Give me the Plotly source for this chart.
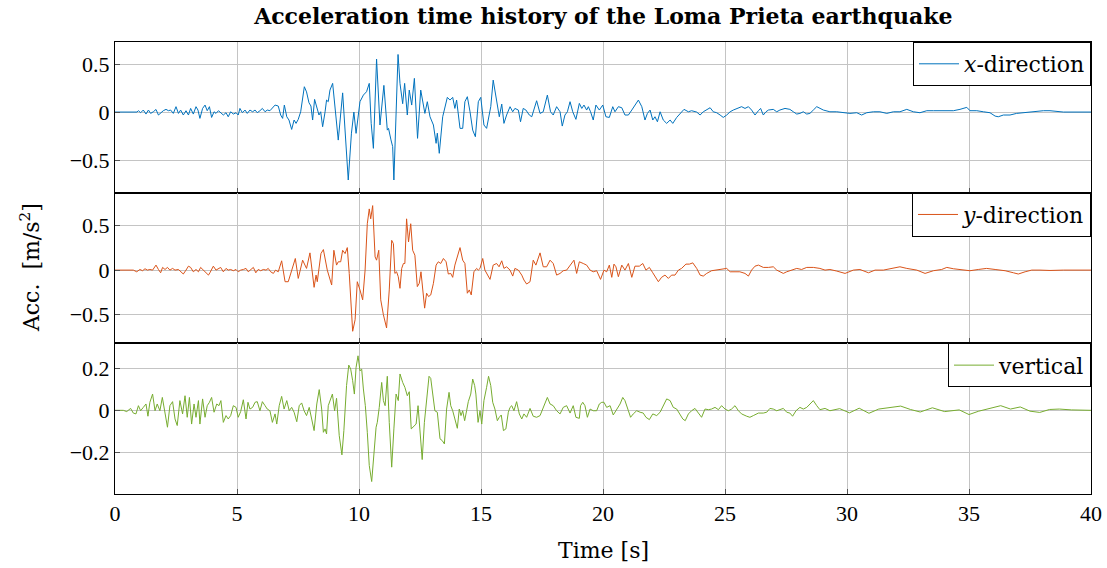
import plotly.graph_objects as go
from plotly.subplots import make_subplots

# ---------------- data ----------------
t_x = [0, 0.9, 0.96, 1.05, 1.16, 1.27, 1.37, 1.46, 1.57, 1.68, 1.78, 1.87, 1.98, 2.09, 2.19, 2.28, 2.39, 2.50, 2.60, 2.69,
       2.80, 2.91, 3.01, 3.10, 3.21, 3.32, 3.40, 3.48, 3.59, 3.69, 3.78, 3.87, 3.96, 4.06, 4.14, 4.24, 4.33, 4.44, 4.55, 4.64,
       4.74, 4.85, 4.96, 5.05, 5.12, 5.22, 5.33, 5.42, 5.53, 5.64, 5.74, 5.83, 5.94, 6.04, 6.15, 6.24, 6.35, 6.45, 6.56, 6.69,
       6.79, 6.87, 6.94, 7.04, 7.13, 7.24, 7.34, 7.42, 7.51, 7.61, 7.69, 7.76, 7.85, 7.95, 8.03, 8.10, 8.18, 8.27, 8.36, 8.43,
       8.51, 8.61, 8.67, 8.74, 8.81, 8.92, 9.03, 9.15, 9.33, 9.45, 9.56, 9.69, 9.79, 9.88, 10.04, 10.18, 10.31, 10.42, 10.50, 10.59,
       10.72, 10.86, 11.02, 11.16, 11.21, 11.31, 11.38, 11.43, 11.52, 11.60, 11.68, 11.79, 11.87, 11.98, 12.06, 12.16, 12.27, 12.40, 12.53, 12.70,
       12.80, 12.91, 13.05, 13.16, 13.21, 13.29, 13.43, 13.52, 13.62, 13.73, 13.84, 13.93, 14.00, 14.14, 14.25, 14.34, 14.44, 14.55, 14.66, 14.77,
       14.89, 14.99, 15.12, 15.23, 15.40, 15.50, 15.64, 15.75, 15.85, 15.94, 16.05, 16.19, 16.30, 16.39, 16.53, 16.62, 16.73, 16.84, 16.98, 17.08,
       17.28, 17.42, 17.55, 17.72, 17.85, 17.96, 18.10, 18.24, 18.33, 18.44, 18.54, 18.65, 18.76, 18.89, 19.03, 19.13, 19.22, 19.33, 19.40, 19.49,
       19.60, 19.71, 19.85, 19.99, 20.12, 20.26, 20.40, 20.49, 20.63, 20.77, 20.90, 21.04, 21.18, 21.31, 21.45, 21.59, 21.72, 21.82, 21.93, 22.04,
       22.13, 22.23, 22.34, 22.47, 22.61, 22.75, 22.86, 23.02, 23.16, 23.32, 23.50, 23.63, 23.84, 23.98, 24.11, 24.25, 24.39, 24.52, 24.66, 24.80,
       24.93, 25.07, 25.21, 25.34, 25.55, 25.68, 25.82, 25.96, 26.09, 26.23, 26.37, 26.46, 26.57, 26.68, 26.78, 26.98, 27.12, 27.25, 27.46, 27.66,
       27.80, 27.94, 28.07, 28.21, 28.35, 28.48, 28.62, 28.76, 29.03, 29.30, 29.58, 29.85, 30.12, 30.40, 30.60, 30.81, 31.08, 31.35, 31.63, 31.90,
       32.17, 32.45, 32.72, 32.99, 33.27, 33.54, 33.81, 34.09, 34.36, 34.63, 34.91, 35.04, 35.32, 35.59, 35.86, 36.07, 36.20, 36.41, 36.68, 36.95,
       37.23, 37.50, 37.77, 38.05, 38.32, 38.59, 38.87, 40.0]
acc_x = [0, 0, 0.014, -0.007, 0.021, -0.021, 0.021, -0.014, 0.003, 0.027, -0.031, -0.007, 0.014, 0.028, 0.014, 0.021, -0.014, 0.056, -0.014, 0.021,
         -0.031, 0.014, -0.031, 0.038, -0.021, 0.056, 0.021, -0.066, 0.038, 0.073, 0.014, 0.056, -0.056, 0.003, -0.014, 0.014, -0.007, -0.031, -0.007, -0.049,
         0.003, -0.021, -0.007, -0.031, 0.038, -0.007, 0.021, -0.014, 0.021, 0.003, 0.021, -0.007, 0.014, 0.038, 0.003, 0.021, 0.014, 0.038, 0.073, 0.063,
         -0.031, -0.066, 0.073, -0.049, -0.083, -0.181, -0.083, -0.118, -0.076, 0.003, 0.160, 0.264, 0.21, 0.097, 0.063, -0.083, 0.132, 0.056, -0.031, 0.003,
         -0.153, 0.003, 0.125, 0.108, 0.229, 0.299, 0.0, -0.292, 0.20, -0.29, -0.708, -0.22, 0.0, -0.222, 0.108, 0.177, 0.212, 0.299, -0.118, -0.378,
         0.552, -0.135, 0.278, -0.188, -0.17, -0.29, -0.36, -0.708, 0.056, 0.60, 0.299, 0.087, 0.299, -0.031, 0.229, 0.073, 0.351, -0.274, 0.229, -0.014,
         0.108, -0.049, -0.135, -0.326, -0.22, -0.43, -0.049, 0.056, 0.153, 0.125, 0.153, 0.038, 0.125, -0.170, -0.170, 0.108, 0.160, 0.003, -0.188, -0.257,
         0.108, 0.153, -0.135, -0.170, 0.056, 0.333, 0.125, -0.049, 0.083, -0.118, -0.031, 0.056, 0.003, 0.038, 0.021, -0.101, 0.038, 0.021, -0.031, -0.049,
         0.118, -0.014, 0.003, 0.177, 0.003, -0.031, 0.056, 0.003, -0.146, -0.031, 0.003, 0.108, 0.003, -0.076, 0.090, 0.038, 0.073, 0.021, 0.056, 0.003,
         -0.083, 0.073, 0.021, 0.073, -0.049, -0.056, 0.056, 0.003, 0.056, 0.045, -0.031, -0.031, 0.021, 0.073, 0.125, 0.056, -0.083, -0.014, 0.021, -0.083,
         -0.049, -0.101, 0.003, -0.083, -0.118, -0.083, -0.118, -0.056, -0.021, 0.028, 0.003, 0.014, 0.000, -0.031, 0.003, 0.021, 0.045, 0.003, -0.007, -0.031,
         -0.056, -0.031, 0.003, 0.021, 0.038, 0.056, 0.038, 0.056, 0.021, -0.031, 0.014, 0.038, -0.031, 0.003, 0.021, 0.028, 0.003, 0.021, 0.038, 0.028,
         0.003, -0.021, -0.014, 0.003, -0.021, -0.014, 0.021, 0.056, 0.021, 0.003, 0.003, -0.007, -0.014, -0.007, -0.031, -0.007, 0.003, 0.003, -0.014, 0.003,
         0.003, 0.028, 0.003, -0.007, 0.014, 0.014, 0.014, 0.010, 0.014, 0.028, 0.049, 0.014, 0.014, 0.003, -0.007, -0.042, -0.049, -0.031, -0.031, -0.014,
         -0.007, 0.003, 0.014, 0.014, 0.014, 0.007, 0.000, 0.0]

t_y = [0, 0.75, 0.89, 1.02, 1.13, 1.23, 1.33, 1.43, 1.54, 1.68, 1.78, 1.87, 1.95, 2.05, 2.15, 2.25, 2.36, 2.46, 2.60, 2.69,
       2.80, 2.91, 3.01, 3.10, 3.21, 3.32, 3.42, 3.51, 3.62, 3.73, 3.83, 3.89, 4.03, 4.14, 4.24, 4.33, 4.44, 4.55, 4.64, 4.74,
       4.85, 4.96, 5.05, 5.15, 5.26, 5.37, 5.46, 5.56, 5.67, 5.77, 5.87, 5.97, 6.08, 6.19, 6.28, 6.38, 6.49, 6.58, 6.69, 6.83,
       6.97, 7.10, 7.24, 7.39, 7.51, 7.69, 7.85, 7.99, 8.16, 8.24, 8.29, 8.44, 8.54, 8.70, 8.88, 8.97, 9.08, 9.15, 9.25, 9.33,
       9.43, 9.52, 9.60, 9.74, 9.84, 9.93, 10.04, 10.15, 10.25, 10.34, 10.42, 10.48, 10.56, 10.66, 10.72, 10.81, 10.89, 11.0, 11.13, 11.24,
       11.34, 11.41, 11.47, 11.54, 11.61, 11.68, 11.75, 11.82, 11.88, 11.95, 12.03, 12.12, 12.20, 12.29, 12.39, 12.47, 12.54, 12.61, 12.69, 12.77,
       12.85, 12.94, 13.05, 13.16, 13.25, 13.35, 13.46, 13.57, 13.66, 13.76, 13.84, 13.93, 14.03, 14.14, 14.25, 14.34, 14.44, 14.52, 14.60, 14.71,
       14.82, 14.89, 14.96, 15.07, 15.16, 15.26, 15.37, 15.50, 15.64, 15.74, 15.85, 15.94, 16.05, 16.19, 16.30, 16.39, 16.53, 16.67, 16.76, 16.87,
       17.01, 17.14, 17.25, 17.42, 17.55, 17.69, 17.83, 17.96, 18.10, 18.24, 18.37, 18.51, 18.65, 18.81, 18.92, 19.03, 19.19, 19.33, 19.47, 19.60,
       19.74, 19.90, 20.04, 20.15, 20.26, 20.36, 20.45, 20.53, 20.63, 20.77, 20.90, 21.04, 21.18, 21.31, 21.49, 21.63, 21.76, 21.90, 22.04, 22.17,
       22.27, 22.40, 22.54, 22.68, 22.81, 22.95, 23.09, 23.22, 23.40, 23.54, 23.68, 23.84, 23.98, 24.11, 24.25, 24.45, 24.66, 24.86, 25.07, 25.21,
       25.41, 25.61, 25.82, 25.96, 26.09, 26.23, 26.37, 26.57, 26.78, 26.98, 27.12, 27.25, 27.39, 27.53, 27.73, 27.94, 28.14, 28.35, 28.62, 28.89,
       29.10, 29.30, 29.58, 29.92, 30.26, 30.53, 30.88, 31.15, 31.49, 31.83, 32.17, 32.45, 32.86, 33.20, 33.54, 33.88, 34.09, 34.36, 34.70, 35.04,
       35.38, 35.72, 36.07, 36.48, 36.82, 37.02, 37.30, 37.57, 37.91, 38.32, 38.87, 40.0]
acc_y = [0, 0, -0.019, 0.007, -0.007, 0.015, 0, 0.007, 0, 0.056, 0.007, -0.030, 0.030, 0.007, 0.030, 0, 0.019, 0, 0.007, -0.019,
         -0.044, 0, 0.044, 0.030, -0.019, 0.007, -0.019, 0.030, 0, -0.019, -0.056, -0.030, 0.044, 0, 0.019, 0.030, -0.019, 0.019, 0, 0.007,
         -0.007, 0.007, -0.019, 0, 0.007, 0.019, -0.019, 0.007, 0.030, -0.030, 0.007, -0.007, 0.007, 0, 0.019, -0.019, -0.037, 0, -0.019, 0.104,
         -0.130, -0.130, 0, 0.130, -0.093, 0.111, 0.019, 0.193, -0.193, -0.056, -0.130, 0.185, 0.230, 0, -0.167, 0.222, 0.056, 0.093, 0.093, 0.222,
         0.185, 0.252, -0.037, -0.685, -0.556, -0.130, -0.222, -0.333, 0, 0.519, 0.685, 0.574, 0.722, 0.148, 0.111, 0.222, -0.333, -0.500, -0.648, -0.222,
         0.333, 0.296, -0.037, -0.019, -0.074, -0.204, 0.019, 0.074, 0.074, 0.574, 0.315, 0.519, 0.222, 0.167, -0.185, -0.148, -0.019, -0.222, -0.426, -0.259,
         -0.296, -0.278, -0.148, 0.056, 0.093, 0.074, 0.130, 0.093, -0.044, -0.037, -0.081, 0.056, 0.148, 0.252, 0.111, 0.074, -0.259, -0.222, -0.278, -0.019,
         0.019, 0, 0.019, 0.130, 0, -0.056, -0.104, 0.056, 0.074, 0.037, 0.104, 0.019, 0.037, 0, -0.067, 0.019, 0, -0.056, -0.111, -0.156,
         -0.130, 0.111, 0.056, 0.193, 0.037, 0.037, 0.111, 0.074, -0.056, -0.037, -0.007, 0, 0.056, 0.111, -0.037, 0.093, 0.074, 0.056, 0, -0.019,
         -0.007, -0.104, 0, -0.019, 0.056, -0.081, 0.067, 0.037, -0.074, 0.056, 0, 0.074, -0.081, 0.044, 0.044, 0.074, 0, 0.030, -0.030, -0.093,
         -0.130, -0.081, -0.056, -0.093, -0.056, -0.056, 0, 0.019, 0.067, 0.067, 0.081, 0.019, -0.056, -0.067, -0.037, -0.007, 0, 0.011, 0.019, -0.019,
         -0.019, -0.019, -0.037, -0.067, 0, 0.044, 0.056, 0.030, 0.030, 0.037, 0, -0.019, -0.037, -0.019, 0, 0.019, 0.007, 0.030, 0.030, 0.019,
         0, 0.007, -0.011, -0.037, 0, 0.007, -0.030, 0, 0, 0.019, 0.037, 0.019, 0, -0.037, -0.007, 0.007, 0.030, 0.015, 0, -0.007,
         0.007, 0.019, 0.007, -0.007, -0.030, -0.044, -0.019, 0, 0, -0.004, 0, 0]

t_z = [0, 0.34, 0.48, 0.64, 0.75, 0.86, 0.96, 1.05, 1.16, 1.27, 1.35, 1.43, 1.54, 1.64, 1.73, 1.84, 1.94, 2.05, 2.15, 2.25,
       2.36, 2.46, 2.55, 2.66, 2.77, 2.87, 2.96, 3.05, 3.14, 3.24, 3.32, 3.42, 3.48, 3.59, 3.69, 3.78, 3.87, 3.96, 4.06, 4.17,
       4.26, 4.34, 4.44, 4.55, 4.64, 4.74, 4.85, 4.96, 5.05, 5.15, 5.26, 5.37, 5.45, 5.53, 5.64, 5.74, 5.83, 5.94, 6.04, 6.15,
       6.24, 6.35, 6.45, 6.56, 6.63, 6.73, 6.83, 6.93, 7.04, 7.14, 7.24, 7.34, 7.45, 7.55, 7.65, 7.75, 7.85, 7.96, 8.06, 8.16,
       8.27, 8.37, 8.47, 8.54, 8.61, 8.67, 8.74, 8.81, 8.91, 9.00, 9.08, 9.19, 9.30, 9.38, 9.49, 9.58, 9.66, 9.74, 9.81, 9.88,
       9.96, 10.04, 10.11, 10.18, 10.26, 10.34, 10.42, 10.52, 10.61, 10.70, 10.75, 10.83, 10.93, 11.00, 11.07, 11.16, 11.24, 11.34, 11.43, 11.52,
       11.61, 11.68, 11.79, 11.88, 11.98, 12.06, 12.14, 12.25, 12.34, 12.42, 12.50, 12.59, 12.68, 12.77, 12.87, 12.94, 13.02, 13.11, 13.21, 13.32,
       13.41, 13.50, 13.59, 13.69, 13.76, 13.84, 13.93, 14.03, 14.11, 14.18, 14.25, 14.33, 14.41, 14.48, 14.58, 14.66, 14.74, 14.79, 14.88, 14.96,
       15.03, 15.12, 15.23, 15.31, 15.40, 15.48, 15.57, 15.67, 15.75, 15.83, 15.92, 16.02, 16.12, 16.19, 16.26, 16.35, 16.46, 16.57, 16.67, 16.76,
       16.87, 17.01, 17.14, 17.28, 17.42, 17.55, 17.72, 17.83, 17.96, 18.10, 18.24, 18.37, 18.51, 18.65, 18.78, 18.89, 19.03, 19.08, 19.17, 19.26,
       19.36, 19.47, 19.60, 19.74, 19.85, 19.95, 20.04, 20.15, 20.29, 20.42, 20.56, 20.70, 20.81, 20.90, 21.04, 21.13, 21.24, 21.38, 21.52, 21.65,
       21.76, 21.90, 22.04, 22.20, 22.34, 22.47, 22.61, 22.75, 22.88, 23.02, 23.13, 23.27, 23.37, 23.50, 23.63, 23.77, 23.91, 24.04, 24.18, 24.32,
       24.45, 24.59, 24.73, 24.86, 25.00, 25.14, 25.27, 25.41, 25.55, 25.68, 25.89, 26.02, 26.16, 26.37, 26.57, 26.71, 26.84, 26.98, 27.12, 27.25,
       27.39, 27.53, 27.66, 27.77, 27.91, 28.07, 28.21, 28.35, 28.48, 28.62, 28.76, 28.89, 29.10, 29.30, 29.70, 30.10, 30.50, 30.90, 31.30, 31.70,
       32.20, 32.60, 33.00, 33.50, 34.00, 34.60, 35.00, 35.40, 35.90, 36.30, 36.70, 37.10, 37.50, 37.90, 38.30, 38.70, 39.20, 40.0]
acc_z = [0, 0, -0.006, 0.009, -0.013, -0.017, 0.022, -0.002, 0.014, 0.030, -0.028, 0.038, 0.077, -0.002, 0.030, -0.002, 0.061, -0.017, -0.080, 0.022,
         0.041, -0.041, -0.072, 0.046, -0.017, 0.069, -0.033, 0.061, -0.065, 0.030, -0.033, 0.046, -0.065, 0.054, -0.033, 0.022, 0.038, 0.061, -0.009, 0.030,
         0.022, 0.046, -0.057, -0.025, -0.041, -0.025, 0.022, 0.014, -0.033, -0.006, 0.050, -0.041, 0.038, 0.006, 0.014, 0.038, 0.041, -0.002, 0.041, 0.022,
         0.006, -0.002, -0.057, -0.017, -0.065, 0.022, 0.066, 0.006, 0.046, -0.002, 0.014, -0.009, -0.054, 0.022, 0.035, -0.002, -0.025, 0.014, -0.041, -0.096,
         0.030, 0.098, 0.006, -0.104, -0.088, -0.112, 0.022, 0.046, 0.077, -0.002, 0.057, -0.120, -0.211, -0.096, 0.117, 0.214, 0.195, 0.140, 0.077, 0.203,
         0.258, 0.187, 0.195, 0.101, 0.022, -0.104, -0.261, -0.337, -0.214, -0.080, -0.057, 0.014, 0.132, 0.046, 0.022, 0.161, -0.057, -0.269, -0.088, 0.077,
         0.046, 0.172, 0.132, 0.109, 0.069, 0.088, -0.088, -0.076, -0.065, 0.022, -0.096, -0.233, -0.057, 0.046, 0.161, 0.151, 0.077, -0.002, -0.009, -0.135,
         -0.143, -0.159, 0.006, 0.085, 0.022, -0.002, -0.041, -0.085, 0.006, -0.025, -0.002, -0.049, -0.002, 0.041, 0.077, 0.148, 0.117, 0.077, -0.057, -0.002,
         -0.065, 0.046, 0.109, 0.161, 0.117, 0.038, 0.006, -0.049, -0.033, -0.022, -0.096, -0.088, -0.009, 0.014, 0.022, -0.002, 0.041, -0.017, -0.041, -0.017,
         -0.033, 0.009, -0.028, -0.033, -0.025, 0.014, 0.061, 0.030, 0.022, -0.002, -0.017, 0.014, 0.022, -0.013, 0.022, -0.033, -0.038, 0.022, 0.038, 0.022,
         -0.033, 0.006, -0.002, -0.002, 0.030, 0.038, 0.038, 0.014, 0.022, -0.022, 0.006, 0.030, 0.061, 0.046, -0.002, -0.033, -0.017, -0.002, -0.009, -0.013,
         -0.033, -0.044, -0.017, -0.025, -0.009, 0.022, 0.054, 0.046, 0.014, 0.006, -0.017, -0.041, -0.049, -0.017, -0.002, 0.009, -0.013, -0.033, 0.006, 0.003,
         0.006, 0.014, 0.003, 0.022, 0.006, -0.002, 0.006, 0.022, -0.002, -0.017, -0.028, -0.033, -0.025, -0.013, -0.013, -0.009, 0.009, 0.006, -0.002, 0.003,
         0.009, -0.009, -0.013, -0.028, -0.002, 0.014, 0.006, 0.014, 0.030, 0.046, 0.022, 0.003, 0.009, -0.002, 0.008, -0.012, 0.010, -0.014, 0.006, 0.012,
         0.020, 0.004, -0.008, 0.012, -0.006, 0.002, -0.020, -0.004, 0.010, 0.022, 0.006, 0.016, -0.004, -0.010, 0.004, 0.006, 0.002, 0.0]

series_names = ["<i>x</i>-direction", "<i>y</i>-direction", "vertical"]
series_colors = ["#0072BD", "#D95319", "#77AC30"]
y_ranges = [[-0.84, 0.73], [-0.82, 0.867], [-0.396, 0.317]]
y_tickvals = [[-0.5, 0, 0.5], [-0.5, 0, 0.5], [-0.2, 0, 0.2]]
y_ticktext = [["\u22120.5", "0", "0.5"], ["\u22120.5", "0", "0.5"], ["\u22120.2", "0", "0.2"]]
x_ticks = [0, 5, 10, 15, 20, 25, 30, 35, 40]

TICKFONT = "Liberation Serif"
TEXTFONT = "DejaVu Serif"
GRID = "#c4c4c4"

fig = make_subplots(rows=3, cols=1, shared_xaxes=True, vertical_spacing=0)

data = [(t_x, acc_x), (t_y, acc_y), (t_z, acc_z)]
legend_ids = ["legend", "legend2", "legend3"]
for i, (tt, aa) in enumerate(data):
    fig.add_trace(go.Scatter(x=tt, y=aa, mode="lines", name=series_names[i],
                             line=dict(color=series_colors[i], width=1),
                             legend=legend_ids[i], showlegend=True),
                  row=i + 1, col=1)

for i in range(3):
    fig.update_yaxes(range=y_ranges[i], tickvals=y_tickvals[i], ticktext=y_ticktext[i],
                     showgrid=True, gridcolor=GRID, gridwidth=1, zeroline=False,
                     showline=True, mirror=True, linecolor="black", linewidth=1,
                     ticks="inside", ticklen=5, tickcolor="#555555",
                     tickfont=dict(family=TICKFONT, size=22, color="black"),
                     row=i + 1, col=1)
    fig.update_xaxes(range=[0, 40], tickvals=x_ticks,
                     showgrid=True, gridcolor=GRID, gridwidth=1, zeroline=False,
                     showline=True, mirror=True, linecolor="black", linewidth=1,
                     ticks="inside", ticklen=5, tickcolor="#555555",
                     tickfont=dict(family=TICKFONT, size=22, color="black"),
                     row=i + 1, col=1)

leg_common = dict(x=1, xanchor="right", yanchor="top", bgcolor="white",
                  bordercolor="black", borderwidth=1,
                  font=dict(family=TEXTFONT, size=22, color="black"),
                  itemwidth=40, tracegroupgap=0)
fig.update_layout(
    legend=dict(y=1.0, **leg_common),
    legend2=dict(y=2 / 3, **leg_common),
    legend3=dict(y=1 / 3, **leg_common),
)

fig.update_layout(
    width=1107, height=568,
    margin=dict(l=115, r=16, t=42, b=74, autoexpand=False),
    paper_bgcolor="white", plot_bgcolor="white",
    font=dict(family=TEXTFONT, size=22, color="black"),
    title=dict(text="<b>Acceleration time history of the Loma Prieta earthquake</b>",
               x=0.545, xanchor="center", y=0.972, yanchor="middle",
               font=dict(family=TEXTFONT, size=22, color="black")),
    annotations=[
        dict(text="Acc.  [m/s<sup>2</sup>]", textangle=-90, xref="paper", yref="paper",
             x=-0.087, y=0.5, xanchor="center", yanchor="middle", showarrow=False,
             font=dict(family=TEXTFONT, size=22, color="black")),
        dict(text="Time [s]", xref="paper", yref="paper", x=0.5, y=-0.124,
             xanchor="center", yanchor="middle", showarrow=False,
             font=dict(family=TEXTFONT, size=22, color="black")),
    ],
)

fig.write_html("out.html")
